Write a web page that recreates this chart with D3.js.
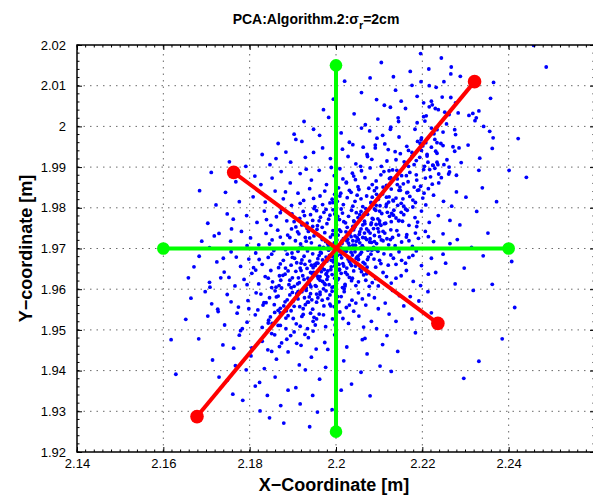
<!DOCTYPE html>
<html>
<head>
<meta charset="utf-8">
<script src="https://cdn.jsdelivr.net/npm/d3@7"></script>
<style>
body { margin: 0; background: #fff; overflow: hidden; }
text { font-family: "Liberation Sans", Arial, Helvetica, sans-serif; }
</style>
</head>
<body>
<div class="container"></div>
<script>
const wd = 593
const ht = 498

// axis limits and ticks
const xLim = [2.14, 2.26]
const yLim = [1.92, 2.02]
const xTicks = [2.14, 2.16, 2.18, 2.2, 2.22, 2.24]
const yTicks = [1.92, 1.93, 1.94, 1.95, 1.96, 1.97, 1.98, 1.99, 2, 2.01, 2.02]

// green = true axes, red = PCA estimate
const greenSegs = [[[2.16, 1.97], [2.24, 1.97]], [[2.2, 1.925], [2.2, 2.015]]]
const redSegs = [[[2.1678, 1.9287], [2.2321, 2.0110]], [[2.1763, 1.9887], [2.2236, 1.9516]]]

const cloudPts = [
[2.2196,2.0179],[2.2267,2.0146],[2.2266,2.0129],[2.2288,2.0123],[2.2250,2.0110],[2.2197,2.0110],[2.2216,2.0100],[2.2232,2.0096],[2.2365,2.0108],[2.2358,2.0069],
[2.2246,2.0072],[2.2266,2.0071],[2.2277,2.0058],[2.2221,2.0062],[2.2216,2.0048],[2.2230,2.0044],[2.2223,2.0053],[2.2283,2.0033],[2.2252,2.0035],[2.2262,2.0029],
[2.2308,2.0027],[2.2317,2.0032],[2.2331,2.0038],[2.2325,2.0021],[2.2322,2.0014],[2.2342,2.0000],[2.2356,1.9988],[2.2364,1.9972],[2.2362,1.9946],[2.2333,1.9922],
[2.2422,1.9970],[2.2401,1.9892],[2.2441,1.9875],[2.2306,1.9954],[2.2290,1.9911],[2.2331,1.9892],[2.2275,1.9992],[2.2277,1.9980],[2.2271,1.9950],[2.2285,1.9947],
[2.2458,2.0199],[2.2487,2.0146],[2.2234,1.9992],[2.2221,1.9996],[2.2203,2.0024],[2.2206,2.0013],[2.2198,1.9972],[2.2208,1.9960],[2.2234,1.9960],[2.2248,1.9953],
[2.2231,1.9939],[2.2211,1.9927],[2.2236,1.9906],[2.2250,1.9906],[2.2262,1.9900],[2.2225,1.9904],[2.2217,1.9894],[2.2238,1.9883],[2.2263,1.9888],[2.2279,1.9880],
[2.2020,2.0111],[2.2094,2.0066],[2.2138,2.0089],[2.2172,2.0135],[2.2105,2.0157],[2.2151,2.0062],[2.2188,2.0074],[2.2059,2.0083],[2.2133,2.0122],[2.2203,2.0058],
[2.2176,2.0101],[2.2112,2.0052],[2.2244,2.0168],[2.2079,2.0119],[2.2215,2.0141],
[2.2042,2.0031],[2.2097,2.0018],[2.2161,2.0044],[2.2188,2.0009],[2.2126,2.0047],[2.1983,2.0022],[2.2209,2.0026],[2.2068,2.0004],[2.2145,2.0012],[2.2237,2.0041],
[2.1962,1.9978],[2.2031,1.9961],[2.2078,1.9989],[2.2113,1.9957],[2.2146,1.9974],[2.2183,1.9993],[2.2201,1.9952],[2.2229,1.9968],[2.2059,1.9996],[2.2012,1.9984],
[2.2164,1.9951],[2.1921,1.9963],[2.2248,1.9986],[2.2095,1.9971],[2.2127,1.9998],[2.2189,1.9963],[2.2039,1.9955],
[2.1895,1.9912],[2.1948,1.9936],[2.1987,1.9921],[2.2015,1.9944],[2.2046,1.9908],[2.2072,1.9931],[2.2091,1.9947],[2.2118,1.9915],[2.2137,1.9938],[2.2159,1.9904],
[2.2176,1.9927],[2.2198,1.9941],[2.2213,1.9912],[2.2234,1.9934],[2.2257,1.9918],[2.2028,1.9926],[2.2063,1.9949],[2.2105,1.9902],[2.2149,1.9933],[2.2186,1.9916],
[2.1969,1.9947],[2.2083,1.9919],[2.2224,1.9905],[2.2121,1.9943],[2.1929,1.9924],[2.2275,1.9939],
[2.1852,1.9873],[2.1894,1.9861],[2.1917,1.9884],[2.1943,1.9868],[2.1961,1.9892],[2.1978,1.9857],[2.1996,1.9879],[2.2009,1.9896],[2.2024,1.9863],[2.2038,1.9885],
[2.2051,1.9852],[2.2067,1.9874],[2.2079,1.9898],[2.2093,1.9866],[2.2104,1.9881],[2.2117,1.9855],[2.2131,1.9893],[2.2142,1.9871],[2.2156,1.9859],[2.2171,1.9887],
[2.2187,1.9868],[2.2203,1.9894],[2.2219,1.9876],[2.2238,1.9861],[2.2261,1.9883],[2.2084,1.9857],[2.2016,1.9871],[2.1989,1.9899],[2.2127,1.9874],[2.2059,1.9891],
[2.2163,1.9879],[2.1931,1.9895],[2.2196,1.9853],[2.2045,1.9869],[2.2111,1.9889],[2.2229,1.9897],[2.1873,1.9889],[2.2148,1.9851],
[2.1808,1.9827],[2.1836,1.9814],[2.1859,1.9841],[2.1878,1.9822],[2.1897,1.9806],[2.1912,1.9836],[2.1925,1.9818],[2.1939,1.9847],[2.1951,1.9803],[2.1963,1.9829],
[2.1974,1.9841],[2.1986,1.9812],[2.1997,1.9833],[2.2006,1.9849],[2.2017,1.9808],[2.2026,1.9825],[2.2035,1.9838],[2.2044,1.9816],[2.2053,1.9845],[2.2062,1.9803],
[2.2071,1.9829],[2.2081,1.9813],[2.2089,1.9842],[2.2098,1.9821],[2.2108,1.9834],[2.2117,1.9809],[2.2128,1.9846],[2.2139,1.9824],[2.2151,1.9811],[2.2164,1.9837],
[2.2178,1.9819],[2.2192,1.9844],[2.2208,1.9807],[2.2226,1.9831],[2.2249,1.9816],[2.2279,1.9839],[2.1991,1.9821],[2.2011,1.9836],[2.2039,1.9804],[2.2058,1.9822],
[2.2076,1.9848],[2.2102,1.9805],[2.2123,1.9827],[2.2146,1.9843],[2.1948,1.9823],[2.1969,1.9808],[2.2031,1.9843],[2.2084,1.9826],[2.2133,1.9817],[2.2171,1.9828],
[2.2214,1.9847],[2.1883,1.9839],[2.1917,1.9811],[2.2003,1.9816],[2.2049,1.9831],[2.2094,1.9849],[2.2157,1.9804],
[2.1762,1.9772],[2.1793,1.9781],[2.1817,1.9764],[2.1834,1.9792],[2.1849,1.9757],[2.1862,1.9778],[2.1874,1.9796],[2.1886,1.9768],[2.1898,1.9785],[2.1907,1.9753],
[2.1916,1.9774],[2.1924,1.9791],[2.1933,1.9762],[2.1941,1.9783],[2.1949,1.9798],[2.1957,1.9756],[2.1964,1.9777],[2.1972,1.9789],[2.1979,1.9761],[2.1986,1.9782],
[2.1993,1.9795],[2.2001,1.9758],[2.2008,1.9771],[2.2015,1.9787],[2.2022,1.9763],[2.2029,1.9779],[2.2036,1.9794],[2.2043,1.9754],[2.2051,1.9776],[2.2058,1.9791],
[2.2066,1.9767],[2.2073,1.9784],[2.2081,1.9759],[2.2089,1.9797],[2.2097,1.9773],[2.2106,1.9786],[2.2115,1.9762],[2.2124,1.9779],[2.2134,1.9794],[2.2145,1.9768],
[2.2157,1.9783],[2.2169,1.9757],[2.2183,1.9776],[2.2198,1.9792],[2.2216,1.9764],[2.2237,1.9781],[2.2264,1.9769],[2.1903,1.9766],[2.1927,1.9781],[2.1946,1.9769],
[2.1968,1.9752],[2.1983,1.9772],[2.1997,1.9785],[2.2012,1.9797],[2.2026,1.9752],[2.2041,1.9768],[2.2055,1.9783],[2.2069,1.9798],[2.2084,1.9774],[2.2101,1.9761],
[2.2119,1.9789],[2.2139,1.9775],[2.2161,1.9797],[2.2189,1.9765],[2.1871,1.9788],[2.1955,1.9793],[2.2004,1.9779],[2.2047,1.9788],[2.2093,1.9759],[2.2128,1.9766],
[2.1839,1.9771],[2.1921,1.9758],[2.2018,1.9766],[2.2062,1.9758],[2.2151,1.9789],
[2.1718,1.9731],[2.1756,1.9718],[2.1781,1.9742],[2.1802,1.9726],[2.1821,1.9709],[2.1838,1.9737],[2.1852,1.9721],[2.1865,1.9745],[2.1877,1.9712],[2.1888,1.9733],
[2.1897,1.9748],[2.1906,1.9719],[2.1914,1.9736],[2.1922,1.9703],[2.1929,1.9727],[2.1936,1.9742],[2.1943,1.9714],[2.1949,1.9731],[2.1956,1.9747],[2.1962,1.9706],
[2.1968,1.9722],[2.1974,1.9739],[2.1981,1.9711],[2.1987,1.9728],[2.1993,1.9744],[2.1999,1.9716],[2.2005,1.9733],[2.2011,1.9702],[2.2017,1.9724],[2.2023,1.9741],
[2.2029,1.9713],[2.2035,1.9729],[2.2041,1.9746],[2.2047,1.9718],[2.2054,1.9735],[2.2061,1.9707],[2.2068,1.9726],[2.2075,1.9743],[2.2082,1.9715],[2.2089,1.9732],
[2.2097,1.9749],[2.2105,1.9721],[2.2113,1.9738],[2.2122,1.9709],[2.2131,1.9727],[2.2141,1.9744],[2.2152,1.9716],[2.2164,1.9734],[2.2177,1.9705],[2.2191,1.9725],
[2.2207,1.9742],[2.2226,1.9717],[2.2248,1.9736],[2.2281,1.9722],[2.1893,1.9727],[2.1918,1.9711],[2.1939,1.9726],[2.1958,1.9734],[2.1976,1.9717],[2.1992,1.9734],
[2.2008,1.9746],[2.2025,1.9719],[2.2039,1.9708],[2.2052,1.9722],[2.2066,1.9738],[2.2079,1.9724],[2.2094,1.9712],[2.2109,1.9742],[2.2126,1.9722],[2.2145,1.9733],
[2.2169,1.9719],[2.1846,1.9711],[2.1871,1.9728],[2.1933,1.9749],[2.1971,1.9703],[2.2002,1.9721],[2.2032,1.9736],[2.2058,1.9748],[2.2087,1.9703],[2.2118,1.9724],
[2.2184,1.9738],[2.1794,1.9707],[2.1911,1.9741],[2.1984,1.9709],[2.2044,1.9731],[2.2101,1.9729],[2.2137,1.9707],[2.2214,1.9729],
[2.1683,1.9681],[2.1724,1.9667],[2.1757,1.9692],[2.1779,1.9656],[2.1798,1.9674],[2.1814,1.9689],[2.1829,1.9661],[2.1843,1.9678],[2.1856,1.9695],[2.1867,1.9653],
[2.1878,1.9671],[2.1887,1.9686],[2.1896,1.9659],[2.1904,1.9676],[2.1912,1.9693],[2.1919,1.9664],[2.1926,1.9681],[2.1933,1.9651],[2.1939,1.9669],[2.1946,1.9687],
[2.1952,1.9658],[2.1958,1.9675],[2.1964,1.9691],[2.1971,1.9663],[2.1977,1.9679],[2.1983,1.9696],[2.1989,1.9655],[2.1995,1.9672],[2.2001,1.9688],[2.2007,1.9661],
[2.2013,1.9677],[2.2019,1.9694],[2.2025,1.9652],[2.2031,1.9668],[2.2038,1.9684],[2.2045,1.9657],[2.2052,1.9673],[2.2059,1.9691],[2.2067,1.9662],[2.2075,1.9679],
[2.2083,1.9696],[2.2092,1.9654],[2.2101,1.9671],[2.2111,1.9687],[2.2121,1.9659],[2.2133,1.9676],[2.2146,1.9692],[2.2161,1.9664],[2.2178,1.9683],[2.2198,1.9658],
[2.2221,1.9676],[2.2254,1.9664],[2.1871,1.9662],[2.1898,1.9689],[2.1921,1.9672],[2.1943,1.9659],[2.1961,1.9683],[2.1979,1.9669],[2.1997,1.9657],[2.2011,1.9685],
[2.2028,1.9674],[2.2044,1.9692],[2.2063,1.9666],[2.2081,1.9686],[2.2104,1.9663],[2.2127,1.9684],[2.2152,1.9671],[2.1822,1.9673],[2.1851,1.9686],[2.1909,1.9665],
[2.1934,1.9694],[2.1968,1.9652],[2.1992,1.9681],[2.2016,1.9663],[2.2049,1.9679],[2.2072,1.9654],[2.2097,1.9693],[2.2139,1.9661],[2.2186,1.9694],[2.1769,1.9679],
[2.1883,1.9697],[2.1955,1.9664],[2.2004,1.9694],[2.2036,1.9658],[2.2088,1.9674],[2.2169,1.9678],[2.1809,1.9653],[2.1928,1.9661],[2.2056,1.9686],
[2.1658,1.9628],[2.1707,1.9617],[2.1741,1.9642],[2.1766,1.9608],[2.1787,1.9624],[2.1805,1.9639],[2.1821,1.9613],[2.1836,1.9631],[2.1849,1.9646],[2.1861,1.9605],
[2.1872,1.9622],[2.1882,1.9637],[2.1891,1.9611],[2.1899,1.9628],[2.1907,1.9644],[2.1915,1.9616],[2.1923,1.9633],[2.1931,1.9603],[2.1938,1.9621],[2.1945,1.9638],
[2.1952,1.9609],[2.1959,1.9626],[2.1966,1.9643],[2.1973,1.9614],[2.1981,1.9631],[2.1988,1.9648],[2.1996,1.9606],[2.2004,1.9623],[2.2012,1.9639],[2.2021,1.9612],
[2.2031,1.9629],[2.2041,1.9645],[2.2052,1.9618],[2.2064,1.9635],[2.2077,1.9607],[2.2092,1.9626],[2.2109,1.9641],[2.2128,1.9615],[2.2151,1.9633],[2.2179,1.9619],
[2.2214,1.9637],[2.1853,1.9618],[2.1877,1.9634],[2.1903,1.9607],[2.1926,1.9624],[2.1948,1.9641],[2.1969,1.9619],[2.1991,1.9636],[2.2015,1.9604],[2.2036,1.9621],
[2.2059,1.9643],[2.2084,1.9616],[2.2117,1.9631],[2.1814,1.9647],[2.1868,1.9609],[2.1919,1.9646],[2.1942,1.9606],[2.1977,1.9637],[2.2008,1.9647],[2.2046,1.9609],
[2.2071,1.9638],[2.2139,1.9627],[2.1794,1.9611],[2.1889,1.9645],[2.1935,1.9627],[2.1984,1.9611],[2.2026,1.9636],[2.2098,1.9608],[2.2163,1.9646],[2.1752,1.9629],
[2.1911,1.9613],[2.1963,1.9631],[2.2001,1.9614],[2.2069,1.9622],[2.1843,1.9627],
[2.1664,1.9578],[2.1712,1.9564],[2.1748,1.9587],[2.1774,1.9556],[2.1796,1.9572],[2.1815,1.9591],[2.1831,1.9561],[2.1846,1.9579],[2.1859,1.9596],[2.1871,1.9553],
[2.1882,1.9569],[2.1893,1.9586],[2.1903,1.9558],[2.1912,1.9576],[2.1921,1.9594],[2.1929,1.9562],[2.1938,1.9581],[2.1946,1.9551],[2.1955,1.9568],[2.1963,1.9587],
[2.1972,1.9559],[2.1981,1.9577],[2.1991,1.9595],[2.2001,1.9564],[2.2012,1.9582],[2.2024,1.9555],[2.2037,1.9573],[2.2052,1.9591],[2.2069,1.9561],[2.2089,1.9579],
[2.2114,1.9566],[2.2147,1.9584],[2.2192,1.9571],[2.1826,1.9588],[2.1857,1.9562],[2.1887,1.9574],[2.1916,1.9557],[2.1941,1.9589],[2.1968,1.9573],[2.1996,1.9557],
[2.2019,1.9594],[2.2046,1.9566],[2.2076,1.9586],[2.1798,1.9552],[2.1866,1.9583],[2.1934,1.9568],[2.1977,1.9596],[2.2031,1.9561],[2.2098,1.9552],[2.1757,1.9569],
[2.1899,1.9592],[2.1958,1.9579],[2.2007,1.9569],[2.2061,1.9576],[2.1838,1.9567],[2.2131,1.9597],[2.1986,1.9563],
[2.1652,1.9526],[2.1703,1.9534],[2.1742,1.9512],[2.1771,1.9541],[2.1794,1.9519],[2.1813,1.9537],[2.1829,1.9506],[2.1844,1.9524],[2.1858,1.9543],[2.1871,1.9511],
[2.1884,1.9529],[2.1896,1.9547],[2.1908,1.9515],[2.1921,1.9533],[2.1934,1.9503],[2.1947,1.9521],[2.1961,1.9539],[2.1976,1.9508],[2.1992,1.9527],[2.2009,1.9544],
[2.2029,1.9516],[2.2053,1.9534],[2.2082,1.9521],[2.2123,1.9539],[2.2176,1.9527],[2.1819,1.9549],[2.1852,1.9516],[2.1889,1.9535],[2.1917,1.9509],[2.1955,1.9527],
[2.1998,1.9512],[2.2041,1.9546],[2.1783,1.9503],[2.1866,1.9548],[2.1941,1.9541],[2.2016,1.9528],[2.1727,1.9545],[2.2064,1.9507],
[2.1682,1.9478],[2.1738,1.9463],[2.1776,1.9487],[2.1805,1.9456],[2.1829,1.9472],[2.1851,1.9491],[2.1869,1.9459],[2.1886,1.9477],[2.1903,1.9495],[2.1919,1.9462],
[2.1936,1.9481],[2.1954,1.9453],[2.1974,1.9469],[2.1997,1.9488],[2.2025,1.9458],[2.2061,1.9476],[2.2108,1.9464],[2.1842,1.9451],[2.1895,1.9486],[2.1947,1.9497],
[2.1763,1.9455],[2.1981,1.9452],[2.1874,1.9468],
[2.1714,1.9426],[2.1767,1.9412],[2.1803,1.9436],[2.1834,1.9405],[2.1862,1.9428],[2.1889,1.9446],[2.1915,1.9414],[2.1943,1.9433],[2.1976,1.9408],[2.2018,1.9424],
[2.2072,1.9441],[2.1851,1.9447],[2.1929,1.9402],
[2.1748,1.9376],[2.1813,1.9362],[2.1859,1.9384],[2.1907,1.9358],[2.1962,1.9379],[2.2036,1.9367],
[2.1784,1.9327],[2.1872,1.9314],[2.1946,1.9339],[2.1846,1.9284],[2.1939,1.9262],
[2.1618,1.9476],[2.1629,1.9391],[2.1708,1.9605],[2.1729,1.9737],[2.1748,1.9785],[2.1776,1.9815],[2.2414,1.9555],[2.2385,1.9478],[2.2362,1.9612],[2.2407,1.9668],
[2.2331,1.9423],[2.2296,1.9381],
[2.1862,1.9581],[2.1874,1.9603],[2.1885,1.9547],[2.1893,1.9622],[2.1901,1.9571],[2.1909,1.9589],[2.1917,1.9652],[2.1924,1.9538],[2.1931,1.9597],[2.1937,1.9616],
[2.1944,1.9574],[2.1951,1.9661],[2.1957,1.9632],[2.1963,1.9593],[2.1969,1.9672],[2.1975,1.9611],[2.1981,1.9645],[2.1986,1.9586],[2.1992,1.9702],[2.1997,1.9627],
[2.2003,1.9683],[2.2008,1.9649],[2.2013,1.9718],[2.2019,1.9601],[2.2024,1.9693],[2.2029,1.9737],[2.2034,1.9662],[2.2039,1.9754],[2.2045,1.9708],[2.2051,1.9681],
[2.2056,1.9771],[2.2062,1.9727],[2.2068,1.9789],[2.2074,1.9696],[2.2081,1.9812],[2.2087,1.9749],[2.2094,1.9833],[2.2101,1.9768],[2.2109,1.9851],[2.2116,1.9803],
[2.2124,1.9872],[2.2132,1.9819],[2.2141,1.9892],[2.2149,1.9843],[2.2158,1.9913],[2.2167,1.9864],[2.2176,1.9936],[2.2186,1.9881],[2.2195,1.9958],[2.2205,1.9902],
[2.1848,1.9532],[2.1866,1.9511],[2.1879,1.9559],[2.1896,1.9604],[2.1913,1.9628],[2.1927,1.9579],[2.1941,1.9641],[2.1954,1.9607],[2.1967,1.9658],[2.1979,1.9624],
[2.1994,1.9667],[2.2006,1.9702],[2.2018,1.9657],[2.2031,1.9706],[2.2043,1.9752],[2.2055,1.9714],[2.2067,1.9761],[2.2079,1.9738],[2.2092,1.9794],[2.2104,1.9757],
[2.2117,1.9826],[2.2129,1.9786],[2.2142,1.9857],[2.2155,1.9822],[2.2168,1.9902],[2.2181,1.9851],[2.2194,1.9924],[2.2207,1.9873],[2.2221,1.9949],[2.2234,1.9912],
[2.1833,1.9567],[2.1851,1.9604],[2.1869,1.9633],[2.1883,1.9652],[2.1899,1.9678],[2.1915,1.9701],[2.1931,1.9718],[2.1946,1.9754],[2.1961,1.9768],[2.1977,1.9796],
[2.1993,1.9813],[2.2009,1.9829],[2.2024,1.9861],[2.2041,1.9878],[2.2057,1.9902],[2.2073,1.9926],[2.2091,1.9954],[2.2108,1.9978],[2.2126,1.9993],[2.2144,2.0021],
[2.1928,1.9489],[2.1952,1.9512],[2.1971,1.9537],[2.1988,1.9559],[2.2004,1.9582],[2.2021,1.9608],[2.2038,1.9627],[2.2056,1.9651],[2.2073,1.9673],[2.2091,1.9698],
[2.2109,1.9719],[2.2127,1.9746],[2.2146,1.9769],[2.2165,1.9794],[2.2184,1.9813],[2.2204,1.9836],[2.2223,1.9858],[2.2244,1.9874],[2.2187,1.9754],[2.2163,1.9728],
[2.1958,1.9664],[2.1966,1.9689],[2.1973,1.9648],[2.1982,1.9702],[2.1989,1.9671],[2.1996,1.9714],[2.2003,1.9662],[2.2011,1.9742],[2.2018,1.9699],[2.2027,1.9723],
[2.2035,1.9691],[2.2042,1.9766],[2.2049,1.9727],[2.2057,1.9702],[2.2064,1.9783],[2.2071,1.9748],[2.2078,1.9716],[2.2086,1.9772],[2.2093,1.9806],[2.2099,1.9741],
[2.1939,1.9612],[2.1947,1.9653],[2.1955,1.9588],[2.1963,1.9622],[2.1971,1.9601],[2.1978,1.9638],[2.1985,1.9683],[2.1991,1.9605],[2.1999,1.9642],[2.2006,1.9626],
[2.2014,1.9712],[2.2022,1.9641],[2.2031,1.9677],[2.2039,1.9719],[2.2047,1.9676],[2.2055,1.9741],[2.2063,1.9703],[2.2071,1.9722],[2.2082,1.9763],[2.2089,1.9717],
[2.2101,1.9792],[2.2112,1.9761],[2.2122,1.9814],[2.2133,1.9782],[2.2143,1.9806],[2.2154,1.9767],[2.2166,1.9838],[2.2178,1.9802],[2.2189,1.9843],[2.2201,1.9824],
[2.1901,1.9528],[2.1912,1.9594],[2.1924,1.9552],[2.1936,1.9568],[2.1949,1.9531],[2.1884,1.9503],[2.1871,1.9542],[2.1858,1.9488],[2.1843,1.9517],[2.1909,1.9467],
[2.2123,1.9891],[2.2139,1.9918],[2.2152,1.9879],[2.2168,1.9941],[2.2181,1.9906],[2.2197,1.9967],[2.2211,1.9931],[2.2227,1.9982],[2.2243,1.9958],[2.2256,2.0006],
[2.1768,1.9864],[2.1791,1.9902],[2.1812,1.9878],[2.1829,1.9931],[2.1847,1.9906],[2.1866,1.9958],[2.1884,1.9937],[2.1903,1.9981],[2.1926,2.0012],[2.1948,1.9993],
[2.1971,2.0041],[2.1994,2.0067],[2.1907,1.9968],[2.1861,1.9921],[2.1826,1.9857],[2.1744,1.9838],[2.1722,1.9807],[2.1703,1.9762],[2.1689,1.9718],[2.1671,1.9655],
[2.2067,1.9479],[2.2094,1.9503],[2.2118,1.9486],[2.2139,1.9521],[2.2157,1.9559],[2.2172,1.9582],[2.2196,1.9609],[2.2213,1.9594],[2.2231,1.9641],[2.2248,1.9686],
[2.2264,1.9712],[2.2221,1.9542],[2.2184,1.9493],[2.2143,1.9447],[2.2102,1.9411],[2.2058,1.9396],[2.2012,1.9352],[2.1991,1.9304],[2.2079,1.9338],[2.2128,1.9398],
[2.1792,1.9402],[2.1823,1.9371],[2.1841,1.9339],[2.1889,1.9352],[2.1917,1.9318],[2.1957,1.9298],[2.1879,1.9271],[2.1824,1.9301],[2.1761,1.9342],[2.1729,1.9384],
[2.1684,1.9842],[2.1697,1.9594],[2.1711,1.9887],[2.1726,1.9551],[2.1739,1.9676],[2.1753,1.9913],[2.1707,1.9702],[2.1733,1.9628],[2.1758,1.9748],[2.1779,1.9498],
[2.2268,1.9804],[2.2287,1.9758],[2.2301,1.9826],[2.2314,1.9703],[2.2326,1.9791],[2.2339,1.9849],[2.2352,1.9738],[2.2297,1.9652],[2.2318,1.9597],[2.2341,1.9682],
[2.2276,1.9613],[2.2372,1.9815]
]

const svgC = d3.select(".container")
.append("svg")
.attr("width", wd)
.attr("height", ht)
.style("display", "block")

const pLeft = 77, pRight = 595, pTop = 45, pBottom = 452

const x = d3.scaleLinear().domain(xLim).range([pLeft, pRight])
const y = d3.scaleLinear().domain(yLim).range([pBottom, pTop])

svgC.append("rect").attr("width", wd).attr("height", ht).attr("fill", "#fff")

svgC.append("clipPath").attr("id", "plotClip")
.append("rect")
.attr("x", pLeft).attr("y", pTop)
.attr("width", pRight - pLeft).attr("height", pBottom - pTop)

// dotted grid
const grid = svgC.append("g")
.attr("stroke", "#6a6a6a")
.attr("stroke-width", 1)
.attr("stroke-dasharray", "1.5,5")

grid.selectAll(".gx")
.data(xTicks.slice(1))
.enter()
.append("line")
.attr("x1", d => x(d)).attr("x2", d => x(d))
.attr("y1", pBottom).attr("y2", pTop)

grid.selectAll(".gy")
.data(yTicks.slice(1, -1))
.enter()
.append("line")
.attr("x1", pLeft).attr("x2", pRight)
.attr("y1", d => y(d)).attr("y2", d => y(d))

const plot = svgC.append("g").attr("clip-path", "url(#plotClip)")

// the sample cloud
plot.selectAll(".pt")
.data(cloudPts)
.enter()
.append("circle")
.attr("cx", d => x(d[0]))
.attr("cy", d => y(d[1]))
.attr("r", 1.9)
.attr("fill", "#0000ff")

const lineFunc = d3.line()
.x(d => x(d[0]))
.y(d => y(d[1]))

function drawAxes(segs, col, r) {
    plot.selectAll(null)
    .data(segs)
    .enter()
    .append("path")
    .attr("d", d => lineFunc(d))
    .attr("fill", "none")
    .style("stroke", col)
    .style("stroke-width", "4px")

    plot.selectAll(null)
    .data(segs.flat())
    .enter()
    .append("circle")
    .attr("cx", d => x(d[0]))
    .attr("cy", d => y(d[1]))
    .attr("r", r)
    .attr("fill", col)
}

drawAxes(greenSegs, "#00ff00", 6.3)
drawAxes(redSegs, "#ff0000", 6.8)

// box + ticks (inward, like matlab)
const minorX = d3.range(0, 61).map(i => xLim[0] + i * 0.002)
const minorY = d3.range(0, 51).map(i => yLim[0] + i * 0.002)

const tk = svgC.append("g").attr("stroke", "#000").attr("stroke-width", 1)

tk.selectAll(".mx")
.data(minorX)
.enter()
.append("path")
.attr("d", d => "M" + x(d) + "," + pBottom + "v-2.5M" + x(d) + "," + pTop + "v2.5")

tk.selectAll(".my")
.data(minorY)
.enter()
.append("path")
.attr("d", d => "M" + pLeft + "," + y(d) + "h2.5M" + pRight + "," + y(d) + "h-2.5")

const xAxis = d3.axisBottom(x).tickValues(xTicks).tickSize(-5).tickPadding(7).tickFormat(d => String(d))
const yAxis = d3.axisLeft(y).tickValues(yTicks).tickSize(-5).tickPadding(11).tickFormat(d => String(d))

const gx = svgC.append("g").attr("transform", "translate(0," + pBottom + ")").call(xAxis)
const gy = svgC.append("g").attr("transform", "translate(" + pLeft + ",0)").call(yAxis)
svgC.append("g").attr("transform", "translate(0," + pTop + ")")
.call(d3.axisTop(x).tickValues(xTicks).tickSize(-5).tickFormat(""))
svgC.append("g").attr("transform", "translate(" + pRight + ",0)")
.call(d3.axisRight(y).tickValues(yTicks).tickSize(-5).tickFormat(""))

svgC.selectAll(".domain").remove()
svgC.selectAll(".tick line").attr("stroke", "#000").attr("stroke-width", 1)

gx.selectAll("text").attr("font-size", 13).attr("fill", "#000")
.attr("font-family", "'Liberation Sans', Arial, sans-serif")
gy.selectAll("text").attr("font-size", 13).attr("fill", "#000")
.attr("font-family", "'Liberation Sans', Arial, sans-serif")

svgC.append("rect")
.attr("x", pLeft).attr("y", pTop)
.attr("width", pRight - pLeft).attr("height", pBottom - pTop)
.attr("fill", "none")
.attr("stroke", "#000")
.attr("stroke-width", 1.5)

// labels
svgC.append("text")
.attr("x", 334).attr("y", 491)
.attr("text-anchor", "middle")
.attr("font-size", 18).attr("font-weight", "bold")
.text("X\u2212Coordinate [m]")

svgC.append("text")
.attr("transform", "translate(32," + ((pTop + pBottom) / 2) + ") rotate(-90)")
.attr("text-anchor", "middle")
.attr("font-size", 18).attr("font-weight", "bold")
.text("Y\u2212coordinate [m]")

const title = svgC.append("text")
.attr("x", 316).attr("y", 24)
.attr("text-anchor", "middle")
.attr("font-size", 14).attr("font-weight", "bold")

title.append("tspan").text("PCA:Algorithm.2:\u03c3")
title.append("tspan").attr("dy", 5).attr("font-size", 11).text("r")
title.append("tspan").attr("dy", -5).text("=2cm")
</script>
</body>
</html>
